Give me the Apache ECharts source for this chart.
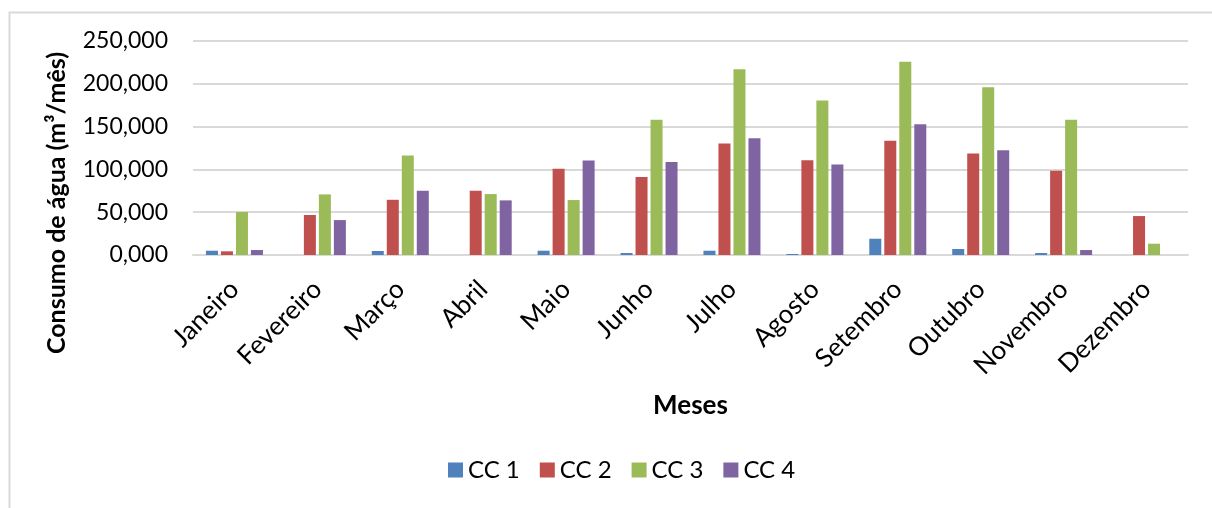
<!DOCTYPE html>
<html>
<head>
<meta charset="utf-8">
<script src="https://cdn.jsdelivr.net/npm/echarts@6/dist/echarts.min.js"></script>
<style>
  html, body { margin: 0; padding: 0; background: #fff; }
  #chart { width: 1212px; height: 508px; }
</style>
</head>
<body>
<div id="chart"></div>
<script>
// Monthly water consumption per consumer centre (m³/mês)
const months = ['Janeiro', 'Fevereiro', 'Março', 'Abril', 'Maio', 'Junho',
                'Julho', 'Agosto', 'Setembro', 'Outubro', 'Novembro', 'Dezembro'];
const seriesNames = ['CC 1', 'CC 2', 'CC 3', 'CC 4'];
const cc1 = [5.0, 0, 4.7, 0, 5.0, 2.3, 5.0, 1.2, 19.0, 7.0, 2.3, 0];
const cc2 = [4.3, 46.7, 64.5, 75.0, 100.7, 91.0, 130.3, 110.8, 133.4, 118.6, 98.4, 45.5];
const cc3 = [50.2, 70.8, 116.3, 71.2, 64.2, 157.9, 217.0, 180.4, 225.9, 196.0, 157.9, 13.2];
const cc4 = [5.8, 40.8, 75.0, 63.8, 110.4, 108.5, 136.5, 105.8, 152.8, 122.5, 5.8, 0];
const yTicks = { min: 0, max: 250, interval: 50 };
const yTitle = 'Consumo de água (m³/mês)';

const colors = ['#4F81BD', '#C0504D', '#9BBB59', '#8064A2'];
const seriesData = [cc1, cc2, cc3, cc4];
const font = 'Lato, "Open Sans", sans-serif';

// Portuguese decimal format with three decimals, e.g. 250,000
const fmt = v => v.toFixed(3).replace('.', ',');

const chart = echarts.init(document.getElementById('chart'), null, { renderer: 'canvas' });
chart.setOption({
  animation: false,
  backgroundColor: '#fff',
  color: colors,
  textStyle: { fontFamily: font, color: '#000' },
  graphic: [{
    // chart frame
    type: 'rect',
    left: 7, top: 10,
    shape: { width: 1300, height: 600 },
    style: { fill: 'none', stroke: '#d9d9d9', lineWidth: 2 },
    silent: true
  }, {
    // vertical axis title
    type: 'text',
    x: 57, y: 203,
    rotation: Math.PI / 2,
    style: {
      text: yTitle,
      font: 'bold 25px ' + font,
      fill: '#000',
      align: 'center',
      verticalAlign: 'middle'
    },
    silent: true
  }],
  grid: { left: 193, right: 24, top: 41, bottom: 253, containLabel: false },
  legend: {
    data: seriesNames,
    top: 453,
    left: 443,
    itemWidth: 15, itemHeight: 15,
    itemGap: 20,
    icon: 'rect',
    textStyle: { fontFamily: font, fontSize: 24, color: '#000' }
  },
  xAxis: {
    type: 'category',
    data: months,
    name: 'Meses',
    nameLocation: 'middle',
    nameGap: 138,
    nameTextStyle: { fontFamily: font, fontSize: 26, fontWeight: 'bold', color: '#000' },
    axisLine: { lineStyle: { color: '#d9d9d9', width: 2 } },
    axisTick: { show: false },
    axisLabel: { rotate: 45, fontSize: 26, color: '#000', fontFamily: font, margin: 30, interval: 0 }
  },
  yAxis: {
    type: 'value',
    min: yTicks.min, max: yTicks.max, interval: yTicks.interval,
    axisLine: { show: false },
    axisTick: { show: false },
    splitLine: { lineStyle: { color: '#d9d9d9', width: 2 } },
    axisLabel: { fontSize: 23, color: '#000', fontFamily: font, margin: 25, formatter: fmt }
  },
  series: seriesNames.map((name, i) => ({
    name,
    type: 'bar',
    data: seriesData[i],
    barWidth: 12,
    barGap: '25%',
    itemStyle: { color: colors[i] }
  }))
});
</script>
</body>
</html>
